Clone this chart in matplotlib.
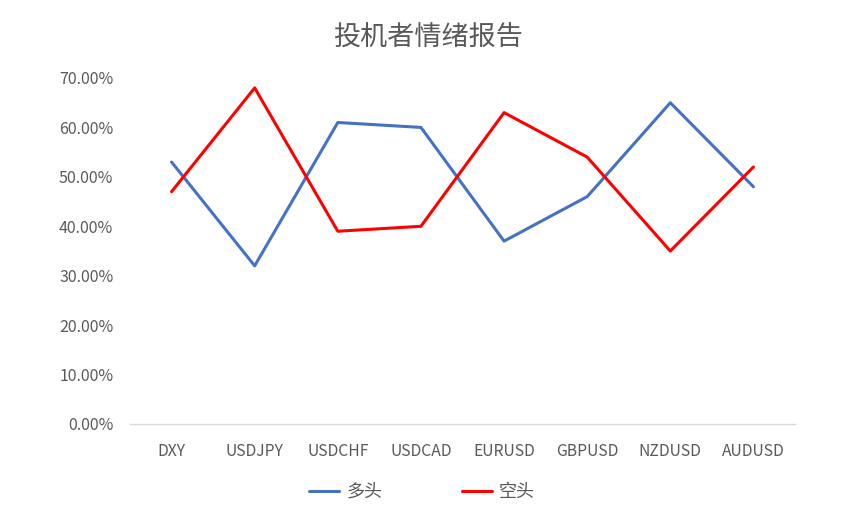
import matplotlib
matplotlib.use("Agg")
import matplotlib.pyplot as plt
from matplotlib.ticker import FuncFormatter

plt.rcParams['font.family'] = ['Noto Sans CJK SC', 'DejaVu Sans']

categories = ["DXY", "USDJPY", "USDCHF", "USDCAD", "EURUSD", "GBPUSD", "NZDUSD", "AUDUSD"]
long_vals = [0.53, 0.32, 0.61, 0.60, 0.37, 0.46, 0.65, 0.48]
short_vals = [0.47, 0.68, 0.39, 0.40, 0.63, 0.54, 0.35, 0.52]
yticks = [0.0, 0.1, 0.2, 0.3, 0.4, 0.5, 0.6, 0.7]

text_color = "#595959"

fig = plt.figure(figsize=(8.45, 5.17), dpi=100)
ax = fig.add_axes([130/845, 1-424/517, (795-130)/845, (424-78)/517])

x = list(range(len(categories)))
ax.plot(x, long_vals, color="#4472C4", lw=2.2, label="多头", solid_capstyle="round")
ax.plot(x, short_vals, color="#FF0000", lw=2.2, label="空头", solid_capstyle="round")

ax.set_xlim(-0.5, len(categories) - 0.5)
ax.set_ylim(0, 0.7)
ax.set_yticks(yticks)
ax.yaxis.set_major_formatter(FuncFormatter(lambda v, p: f"{v*100:.2f}%"))
ax.set_xticks(x)
ax.set_xticklabels(categories)

for s in ["top", "right", "left"]:
    ax.spines[s].set_visible(False)
ax.spines["bottom"].set_color("#D9D9D9")
ax.spines["bottom"].set_linewidth(1.0)
ax.tick_params(axis="y", length=0, colors=text_color, labelsize=11.5, pad=12)
ax.tick_params(axis="x", length=0, colors=text_color, labelsize=11.3, pad=14)

fig.text(428/845, 1-38/517, "投机者情绪报告", ha="center", va="center",
         fontsize=19.5, color=text_color)

leg = fig.legend(loc="center", bbox_to_anchor=(422/845, 1-492/517), ncol=2,
                 frameon=False, fontsize=13, handlelength=1.65, columnspacing=4.4,
                 handletextpad=0.4)
for t in leg.get_texts():
    t.set_color(text_color)

fig.savefig("out.png", dpi=100)
